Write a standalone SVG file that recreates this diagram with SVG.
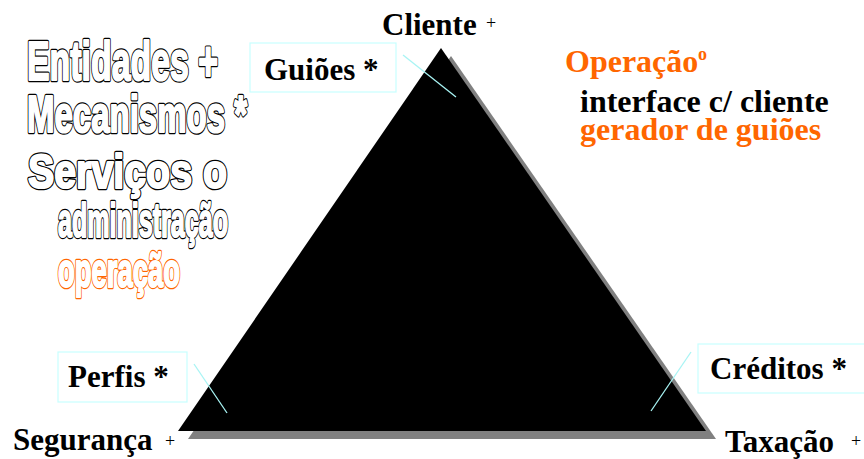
<svg xmlns="http://www.w3.org/2000/svg" xmlns:xlink="http://www.w3.org/1999/xlink" width="864" height="459" viewBox="0 0 864 459">
<style>
.lbl{font-family:"Liberation Serif","Times New Roman",serif;font-weight:bold;font-size:31px;fill:#000}
.big{font-size:32px}
.sup{font-family:"Liberation Serif","Times New Roman",serif;font-size:18px;fill:#000}
.org{fill:#ff6600}
.box{fill:none;stroke:#c8ffff;stroke-width:1.2}
.lead{stroke:#a8f4f4;stroke-width:1.3}
.out{font-family:"Liberation Sans",Arial,sans-serif;font-weight:bold}
.under{fill:#000;stroke:#000;stroke-width:4.6;stroke-linejoin:round}
.undero{fill:#ff6600;stroke:#ff6600;stroke-width:4.6;stroke-linejoin:round}
.over{fill:#fff;stroke:#fff;stroke-width:2.2;stroke-linejoin:round}
</style>
<defs>
<text id="t1" class="out" x="27" y="80" font-size="56" textLength="191" lengthAdjust="spacingAndGlyphs">Entidades +</text>
<text id="t2" class="out" x="27" y="132" font-size="52" textLength="220" lengthAdjust="spacingAndGlyphs">Mecanismos *</text>
<text id="t3" class="out" x="28" y="188" font-size="49" textLength="199" lengthAdjust="spacingAndGlyphs">Serviços o</text>
<text id="t4" class="out" x="58" y="237" font-size="48" textLength="170" lengthAdjust="spacingAndGlyphs">administração</text>
<text id="t5" class="out" x="58" y="287" font-size="48" textLength="122" lengthAdjust="spacingAndGlyphs">operação</text>
</defs>
<g id="legend">
<use xlink:href="#t1" class="under"/><use xlink:href="#t1" class="over"/>
<use xlink:href="#t2" class="under"/><use xlink:href="#t2" class="over"/>
<use xlink:href="#t3" class="under"/><use xlink:href="#t3" class="over"/>
<use xlink:href="#t4" class="under"/><use xlink:href="#t4" class="over"/>
<use xlink:href="#t5" class="undero"/><use xlink:href="#t5" class="over"/>
</g>
<g id="operacao">
<text class="lbl big org" x="565" y="72">Operação</text>
<text class="sup org" x="698" y="60" font-weight="bold">o</text>
<text class="lbl big" x="580" y="112">interface c/ cliente</text>
<text class="lbl big org" x="580" y="140">gerador de guiões</text>
</g>
<g id="triangle">
<polygon points="451,56 188,439 716,439" fill="#808080"/>
<polygon points="441,48 178,431 706,431" fill="#000"/>
</g>
<g id="cliente">
<text class="lbl" x="382" y="35">Cliente</text>
<text class="sup" x="486" y="29">+</text>
</g>
<g id="seguranca">
<text class="lbl" x="13" y="450">Segurança</text>
<text class="sup" x="165" y="447">+</text>
</g>
<g id="taxacao">
<text class="lbl" x="725" y="452">Taxação</text>
<text class="sup" x="851" y="447">+</text>
</g>
<g id="guioes">
<rect class="box" x="250" y="43" width="146" height="49"/>
<text class="lbl" x="264" y="80">Guiões *</text>
</g>
<g id="perfis">
<rect class="box" x="58" y="352" width="129" height="50"/>
<text class="lbl" x="68" y="387">Perfis *</text>
</g>
<g id="creditos">
<rect class="box" x="698" y="344" width="175" height="49"/>
<text class="lbl" x="710" y="379">Créditos *</text>
</g>
<g id="connectors">
<line class="lead" x1="403" y1="55" x2="456" y2="97"/>
<line class="lead" x1="194" y1="364" x2="227" y2="413"/>
<line class="lead" x1="691" y1="352" x2="651" y2="411"/>
</g>
</svg>
